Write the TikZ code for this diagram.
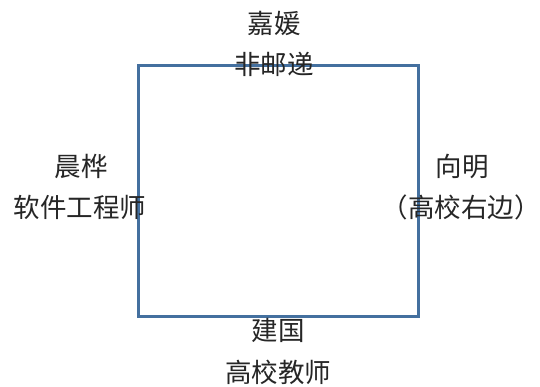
\documentclass[tikz,border=0pt]{standalone}
\usepackage{fontspec}
\newfontfamily\cjk{Noto Sans CJK SC}
\definecolor{boxblue}{HTML}{44709F}
\begin{document}
\begin{tikzpicture}[x=1pt,y=-1pt,
  lbl/.style={font=\cjk\fontsize{26.5}{30}\selectfont, text=black!85, inner sep=0pt, anchor=center},
  frame/.style={draw=boxblue, line width=3pt}]
\useasboundingbox (0,0) rectangle (540,387);
\fill[white] (0,0) rectangle (540,387);
\node[frame, minimum width=280pt, minimum height=250pt, inner sep=0pt] (box) at (278,191) {};
\node[lbl] (t1) at (274,23) {嘉媛};
\node[lbl] (t2) at (274,64) {非邮递};
\node[lbl] (l1) at (81,166) {晨桦};
\node[lbl] (l2) at (80,207) {软件工程师};
\node[lbl] (r1) at (462,166) {向明};
\node[lbl] (r2) at (461,207) {（高校右边）};
\node[lbl] (b1) at (278,330) {建国};
\node[lbl] (b2) at (278,372) {高校教师};
\end{tikzpicture}
\end{document}
